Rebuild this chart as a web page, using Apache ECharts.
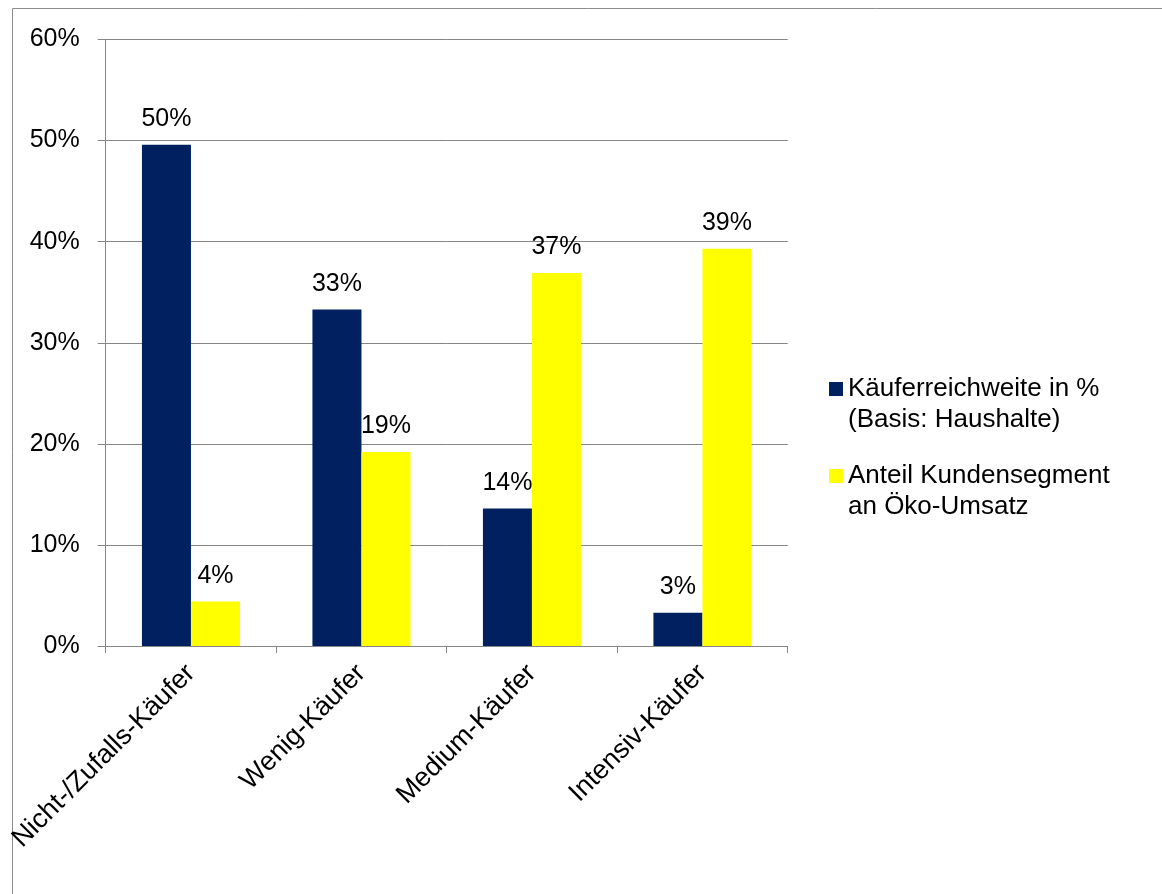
<!DOCTYPE html>
<html>
<head>
<meta charset="utf-8">
<script src="https://cdn.jsdelivr.net/npm/echarts@6/dist/echarts.min.js"></script>
<style>
html,body{margin:0;padding:0;background:#fff;}
#chart{width:1162px;height:894px;}
</style>
</head>
<body>
<div id="chart"></div>
<script>
const categories = ['Nicht-/Zufalls-Käufer', 'Wenig-Käufer', 'Medium-Käufer', 'Intensiv-Käufer'];
const seriesNames = ['Käuferreichweite in %\n(Basis: Haushalte)', 'Anteil Kundensegment\nan Öko-Umsatz'];
const reachValues = [49.6, 33.3, 13.6, 3.3];
const shareValues = [4.4, 19.2, 36.9, 39.3];
const yTicks = [0, 10, 20, 30, 40, 50, 60];

const FONT = '"Liberation Sans", Arial, sans-serif';
const FS = 25;
const LH = 31;
const gray = '#868686';

const chart = echarts.init(document.getElementById('chart'), null, {renderer: 'canvas'});

const legendBase = {
  orient: 'vertical',
  left: 829,
  padding: 0,
  itemWidth: 14,
  itemHeight: 14,
  icon: 'rect',
  formatter: name => '\n' + name,
  textStyle: {
    fontFamily: FONT, fontSize: 26, lineHeight: LH, color: '#000'
  }
};

chart.setOption({
  animation: false,
  backgroundColor: '#fff',
  textStyle: {fontFamily: FONT},
  graphic: [{
    type: 'rect',
    shape: {x: 12.5, y: 8.5, width: 1300, height: 1000},
    style: {fill: 'none', stroke: '#8c8c8c', lineWidth: 1},
    silent: true
  }],
  legend: [
    Object.assign({}, legendBase, {data: [seriesNames[0]], top: 382 - 39.5}),
    Object.assign({}, legendBase, {data: [seriesNames[1]], top: 469 - 39.5})
  ],
  grid: {left: 105.7, top: 39.5, right: 1162 - 787.7, bottom: 894 - 646, containLabel: false},
  xAxis: {
    type: 'category',
    data: categories,
    axisLine: {lineStyle: {color: gray, width: 1}},
    axisTick: {show: true, length: 7, lineStyle: {color: gray}},
    axisLabel: {
      interval: 0, rotate: 45, margin: 23,
      fontFamily: FONT, fontSize: 27, color: '#000'
    },
    splitLine: {show: false}
  },
  yAxis: {
    type: 'value',
    min: yTicks[0], max: yTicks[yTicks.length - 1], interval: 10,
    axisLine: {show: true, lineStyle: {color: gray, width: 1}},
    axisTick: {show: true, length: 8, lineStyle: {color: gray}},
    axisLabel: {
      formatter: '{value}%', margin: 26,
      fontFamily: FONT, fontSize: FS, color: '#000'
    },
    splitLine: {show: true, lineStyle: {color: gray, width: 1}}
  },
  series: [
    {
      name: seriesNames[0], type: 'bar', data: reachValues,
      barGap: '0%', barCategoryGap: '42.5%',
      itemStyle: {color: '#00205F'},
      label: {show: true, position: 'top', distance: 13,
        formatter: p => Math.round(p.value) + '%',
        fontFamily: FONT, fontSize: FS, color: '#000'}
    },
    {
      name: seriesNames[1], type: 'bar', data: shareValues,
      barGap: '0%', barCategoryGap: '42.5%',
      itemStyle: {color: '#FFFF00'},
      label: {show: true, position: 'top', distance: 13,
        formatter: p => Math.round(p.value) + '%',
        fontFamily: FONT, fontSize: FS, color: '#000'}
    }
  ]
});
</script>
</body>
</html>
